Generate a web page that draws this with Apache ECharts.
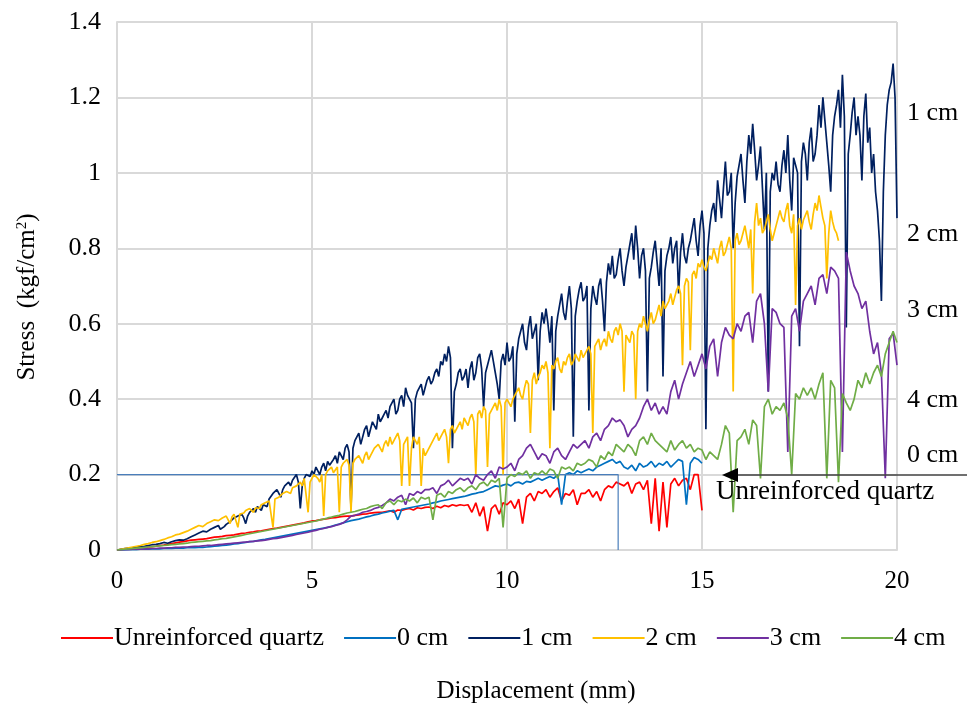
<!DOCTYPE html>
<html>
<head>
<meta charset="utf-8">
<script src="https://cdn.jsdelivr.net/npm/echarts@6/dist/echarts.min.js"></script>
<style>
html,body{margin:0;padding:0;background:#fff;}
#main{width:967px;height:712px;}
</style>
</head>
<body>
<div id="main"></div>
<script>
// displacement step of the readings (mm)
var step = 0.1;

var seriesNames = ["Unreinforced quartz", "0 cm", "1 cm", "2 cm", "3 cm", "4 cm"];
var seriesColors = ["#ff0000", "#0070c0", "#002060", "#ffc000", "#7030a0", "#70ad47"];

var quartz = [
	0,0.001,0.002,0.003,0.004,0.005,0.006,0.007,0.008,0.009,
	0.01,0.012,0.013,0.015,0.017,0.019,0.021,0.022,0.024,0.026,
	0.027,0.028,0.029,0.03,0.032,0.034,0.035,0.036,0.038,0.039,
	0.04,0.042,0.044,0.045,0.047,0.048,0.05,0.051,0.053,0.055,
	0.057,0.058,0.06,0.062,0.064,0.066,0.068,0.07,0.072,0.075,
	0.077,0.078,0.08,0.082,0.083,0.085,0.086,0.088,0.089,0.09,
	0.09,0.092,0.093,0.095,0.096,0.098,0.099,0.1,0.1,0.102,
	0.104,0.1,0.106,0.105,0.108,0.11,0.106,0.112,0.11,0.113,
	0.114,0.11,0.116,0.112,0.118,0.115,0.12,0.117,0.12,0.118,
	0.12,0.1,0.125,0.09,0.115,0.05,0.11,0.12,0.095,0.125,
	0.12,0.13,0.11,0.135,0.07,0.14,0.15,0.13,0.155,0.15,
	0.16,0.14,0.155,0.165,0.13,0.15,0.145,0.16,0.12,0.15,
	0.15,0.16,0.14,0.155,0.13,0.16,0.17,0.165,0.18,0.175,
	0.17,0.18,0.15,0.175,0.18,0.16,0.185,0.07,0.19,0.05,
	0.18,0.06,0.175,0.19,0.17,0.185,0.19,0.16,0.2,0.2,
	0.105
];

var cm0 = [
	0,0,0,0.001,0.001,0.001,0.002,0.002,0.002,0.003,
	0.003,0.003,0.004,0.004,0.004,0.005,0.005,0.005,0.006,0.006,
	0.006,0.007,0.007,0.008,0.009,0.01,0.011,0.012,0.013,0.014,
	0.016,0.017,0.019,0.02,0.022,0.023,0.025,0.027,0.028,0.03,
	0.032,0.034,0.036,0.038,0.04,0.042,0.044,0.046,0.048,0.05,
	0.052,0.054,0.056,0.058,0.06,0.063,0.066,0.069,0.072,0.075,
	0.078,0.08,0.082,0.085,0.088,0.09,0.093,0.095,0.098,0.1,
	0.103,0.105,0.08,0.108,0.11,0.112,0.114,0.116,0.118,0.12,
	0.122,0.125,0.127,0.13,0.132,0.134,0.136,0.138,0.14,0.142,
	0.145,0.148,0.15,0.153,0.155,0.16,0.165,0.17,0.168,0.172,
	0.175,0.17,0.178,0.18,0.175,0.182,0.18,0.185,0.19,0.185,
	0.19,0.195,0.19,0.2,0.12,0.2,0.205,0.2,0.21,0.205,
	0.21,0.215,0.21,0.22,0.225,0.23,0.235,0.24,0.23,0.235,
	0.22,0.215,0.225,0.21,0.23,0.22,0.225,0.235,0.22,0.23,
	0.225,0.235,0.22,0.23,0.24,0.235,0.12,0.23,0.245,0.24,
	0.23
];

// stray straight stroke of the 0 cm record
var cm0StrokeX = [0, 12.85, 12.85];
var cm0StrokeY = [0.2, 0.2, 0];

// 1 cm: readings on the 0.1 grid and the readings half a step later
var cm1 = [
	0,0.002,0.004,0.005,0.006,0.008,0.009,0.01,0.012,0.014,
	0.015,0.017,0.02,0.018,0.022,0.025,0.027,0.026,0.03,0.035,
	0.04,0.045,0.05,0.048,0.055,0.06,0.065,0.05,0.068,0.075,
	0.085,0.09,0.095,0.07,0.1,0.11,0.115,0.105,0.125,0.135,
	0.15,0.16,0.14,0.17,0.18,0.185,0.2,0.11,0.19,0.205,
	0.21,0.22,0.2,0.23,0.235,0.22,0.25,0.26,0.24,0.28,
	0.11,0.29,0.31,0.3,0.33,0.32,0.34,0.36,0.35,0.37,
	0.38,0.4,0.37,0.41,0.43,0.4,0.27,0.42,0.44,0.43,
	0.46,0.45,0.48,0.5,0.52,0.54,0.27,0.44,0.48,0.46,
	0.43,0.5,0.47,0.52,0.38,0.49,0.53,0.47,0.4,0.52,
	0.55,0.51,0.34,0.56,0.6,0.53,0.62,0.58,0.45,0.63,
	0.64,0.55,0.37,0.62,0.68,0.61,0.7,0.3,0.66,0.71,
	0.67,0.37,0.7,0.65,0.72,0.58,0.76,0.78,0.73,0.8,
	0.7,0.78,0.84,0.86,0.72,0.8,0.42,0.75,0.82,0.7,
	0.46,0.78,0.83,0.8,0.68,0.84,0.76,0.82,0.88,0.78,
	0.9,0.32,0.86,0.92,0.98,0.88,1.03,0.95,0.8,0.99,
	1.05,0.92,1.1,1.13,0.98,1.07,0.85,0.42,1.0,1.03,
	0.95,1.06,1.1,0.9,1.02,0.54,1.08,0.98,1.12,1.05,
	1.18,1.2,1.08,0.95,1.15,1.22,1.26,0.59,1.1,1.2,
	1.15,0.98,1.21,1.12,1.05,0.9,0.66,1.1,1.22,1.29,
	0.88
];
var cm1Half = [
	0.001,0.003,0.004,0.006,0.007,0.008,0.01,0.011,0.013,0.014,
	0.016,0.019,0.016,0.021,0.024,0.022,0.028,0.029,0.033,0.038,
	0.042,0.04,0.052,0.053,0.05,0.063,0.055,0.062,0.072,0.07,
	0.08,0.092,0.085,0.09,0.105,0.1,0.11,0.12,0.115,0.14,
	0.145,0.15,0.16,0.165,0.17,0.19,0.18,0.17,0.2,0.195,
	0.2,0.21,0.22,0.21,0.225,0.24,0.23,0.25,0.27,0.26,
	0.27,0.3,0.28,0.32,0.3,0.34,0.32,0.34,0.36,0.35,
	0.39,0.36,0.4,0.38,0.41,0.39,0.4,0.43,0.41,0.45,
	0.44,0.47,0.46,0.49,0.5,0.51,0.42,0.47,0.45,0.48,
	0.48,0.45,0.51,0.48,0.47,0.51,0.5,0.44,0.5,0.49,
	0.5,0.54,0.52,0.58,0.55,0.59,0.56,0.6,0.58,0.6,
	0.6,0.62,0.58,0.65,0.63,0.66,0.64,0.62,0.69,0.66,
	0.7,0.64,0.67,0.7,0.66,0.71,0.73,0.72,0.77,0.74,
	0.75,0.81,0.77,0.8,0.78,0.74,0.72,0.79,0.76,0.8,
	0.74,0.8,0.76,0.82,0.79,0.78,0.8,0.85,0.82,0.86,
	0.84,0.8,0.9,0.87,0.93,0.96,0.94,1.0,0.92,1.02,
	0.98,1.03,1.05,1.06,1.02,0.96,1.0,0.95,0.98,0.97,
	1.02,1.0,0.98,1.04,1.0,1.03,1.05,1.08,1.03,1.1,
	1.12,1.14,1.02,1.1,1.18,1.12,1.15,1.05,1.16,1.1,
	1.1,1.15,1.08,1.0,0.95,0.82,0.95,1.18,1.24,1.2
];

// 2 cm: same layout as 1 cm
var cm2 = [
	0,0.002,0.004,0.006,0.008,0.01,0.012,0.015,0.017,0.02,
	0.022,0.025,0.028,0.032,0.035,0.04,0.042,0.046,0.05,0.055,
	0.06,0.065,0.062,0.07,0.075,0.08,0.078,0.085,0.09,0.07,
	0.095,0.06,0.1,0.105,0.11,0.1,0.115,0.12,0.125,0.13,
	0.06,0.14,0.145,0.15,0.16,0.165,0.17,0.18,0.19,0.1,
	0.19,0.2,0.18,0.09,0.21,0.22,0.21,0.1,0.23,0.24,
	0.1,0.24,0.25,0.23,0.26,0.25,0.27,0.28,0.26,0.29,
	0.3,0.29,0.31,0.17,0.29,0.17,0.3,0.28,0.17,0.25,
	0.27,0.29,0.31,0.3,0.32,0.23,0.33,0.31,0.34,0.35,
	0.33,0.36,0.2,0.37,0.38,0.22,0.37,0.39,0.4,0.2,
	0.4,0.38,0.41,0.43,0.4,0.45,0.31,0.47,0.46,0.49,
	0.5,0.27,0.48,0.51,0.47,0.49,0.52,0.5,0.51,0.53,
	0.52,0.54,0.31,0.55,0.53,0.56,0.58,0.55,0.59,0.6,
	0.42,0.56,0.58,0.4,0.6,0.62,0.58,0.63,0.61,0.65,
	0.66,0.64,0.68,0.67,0.7,0.49,0.72,0.53,0.74,0.76,
	0.77,0.74,0.78,0.8,0.76,0.82,0.79,0.83,0.42,0.84,
	0.82,0.86,0.8,0.68,0.92,0.88,0.85,0.89,0.82,0.86,
	0.9,0.87,0.92,0.84,0.65,0.88,0.875,0.9,0.85,0.92,
	0.94,0.88,0.72,0.9,0.85,0.82
];
var cm2Half = [
	0.001,0.003,0.005,0.007,0.009,0.011,0.013,0.016,0.018,0.021,
	0.024,0.026,0.03,0.034,0.038,0.037,0.045,0.048,0.053,0.05,
	0.058,0.062,0.067,0.072,0.07,0.075,0.082,0.08,0.085,0.088,
	0.09,0.095,0.098,0.1,0.108,0.112,0.11,0.118,0.12,0.125,
	0.135,0.14,0.15,0.155,0.15,0.16,0.175,0.17,0.185,0.18,
	0.2,0.19,0.2,0.2,0.215,0.205,0.22,0.22,0.235,0.225,
	0.23,0.245,0.24,0.25,0.24,0.26,0.265,0.27,0.28,0.275,
	0.28,0.3,0.29,0.28,0.3,0.27,0.29,0.3,0.27,0.26,
	0.28,0.3,0.29,0.31,0.3,0.32,0.31,0.33,0.32,0.34,
	0.35,0.34,0.36,0.35,0.37,0.36,0.38,0.37,0.38,0.39,
	0.39,0.4,0.42,0.41,0.43,0.44,0.45,0.44,0.47,0.48,
	0.47,0.49,0.5,0.48,0.5,0.51,0.49,0.52,0.5,0.51,
	0.53,0.52,0.54,0.56,0.55,0.54,0.56,0.58,0.57,0.58,
	0.57,0.55,0.57,0.58,0.59,0.6,0.61,0.6,0.63,0.62,
	0.64,0.66,0.65,0.69,0.68,0.7,0.71,0.73,0.72,0.75,
	0.75,0.76,0.77,0.78,0.8,0.78,0.81,0.8,0.82,0.81,
	0.84,0.83,0.85,0.87,0.86,0.84,0.87,0.85,0.84,0.88,
	0.88,0.9,0.86,0.89,0.86,0.85,0.88,0.87,0.89,0.9,
	0.91,0.86,0.84,0.87,0.84
];

var cm3 = [
	0,0,0.001,0.001,0.002,0.002,0.002,0.003,0.003,0.004,
	0.004,0.005,0.005,0.006,0.006,0.007,0.007,0.008,0.008,0.009,
	0.01,0.01,0.011,0.012,0.012,0.013,0.014,0.015,0.016,0.017,
	0.018,0.019,0.02,0.021,0.022,0.023,0.024,0.025,0.026,0.028,
	0.03,0.031,0.033,0.035,0.037,0.039,0.041,0.043,0.045,0.047,
	0.05,0.052,0.055,0.057,0.06,0.062,0.065,0.068,0.072,0.08,
	0.09,0.092,0.095,0.1,0.102,0.105,0.11,0.113,0.118,0.125,
	0.135,0.13,0.14,0.145,0.12,0.15,0.145,0.155,0.15,0.16,
	0.16,0.165,0.15,0.17,0.175,0.185,0.17,0.18,0.19,0.185,
	0.19,0.175,0.2,0.19,0.185,0.2,0.21,0.19,0.22,0.215,
	0.22,0.23,0.21,0.24,0.25,0.27,0.28,0.26,0.24,0.255,
	0.25,0.23,0.26,0.27,0.25,0.24,0.26,0.28,0.27,0.28,
	0.29,0.27,0.3,0.31,0.29,0.32,0.33,0.35,0.34,0.345,
	0.33,0.3,0.32,0.33,0.35,0.38,0.4,0.37,0.39,0.36,
	0.38,0.36,0.42,0.45,0.4,0.44,0.47,0.5,0.46,0.49,
	0.52,0.48,0.54,0.56,0.46,0.55,0.59,0.57,0.56,0.6,
	0.58,0.62,0.63,0.55,0.66,0.68,0.6,0.42,0.64,0.63,
	0.6,0.59,0.26,0.62,0.64,0.58,0.66,0.68,0.7,0.65,
	0.72,0.73,0.68,0.75,0.74,0.72,0.26,0.79,0.74,0.7,
	0.68,0.64,0.66,0.58,0.52,0.55,0.47,0.19,0.56,0.575,
	0.49
];

var cm4 = [
	0,0.001,0.002,0.003,0.004,0.005,0.006,0.007,0.008,0.009,
	0.01,0.011,0.012,0.013,0.014,0.015,0.016,0.017,0.018,0.02,
	0.021,0.022,0.023,0.024,0.025,0.027,0.028,0.03,0.031,0.033,
	0.035,0.037,0.039,0.041,0.043,0.045,0.047,0.049,0.051,0.053,
	0.055,0.057,0.059,0.061,0.063,0.065,0.067,0.069,0.071,0.073,
	0.075,0.077,0.08,0.082,0.085,0.087,0.09,0.092,0.095,0.098,
	0.1,0.102,0.105,0.108,0.11,0.115,0.118,0.12,0.11,0.125,
	0.13,0.12,0.132,0.128,0.135,0.13,0.138,0.125,0.14,0.135,
	0.14,0.08,0.145,0.15,0.14,0.155,0.15,0.16,0.165,0.155,
	0.165,0.17,0.16,0.175,0.18,0.17,0.185,0.18,0.19,0.06,
	0.19,0.2,0.195,0.205,0.2,0.21,0.19,0.205,0.2,0.21,
	0.2,0.215,0.21,0.19,0.22,0.215,0.22,0.21,0.23,0.225,
	0.23,0.24,0.235,0.22,0.25,0.24,0.26,0.25,0.28,0.27,
	0.26,0.28,0.27,0.25,0.29,0.3,0.28,0.31,0.29,0.28,
	0.27,0.26,0.29,0.265,0.28,0.29,0.27,0.28,0.26,0.27,
	0.265,0.24,0.26,0.25,0.24,0.28,0.33,0.31,0.1,0.29,
	0.3,0.32,0.28,0.345,0.33,0.19,0.38,0.4,0.36,0.38,
	0.37,0.39,0.35,0.2,0.415,0.4,0.43,0.41,0.43,0.4,
	0.44,0.47,0.19,0.45,0.43,0.18,0.415,0.39,0.37,0.4,
	0.45,0.43,0.47,0.44,0.47,0.49,0.46,0.52,0.55,0.58,
	0.55
];

var allValues = [quartz, cm0, cm1, cm2, cm3, cm4];
var allHalf = [null, null, cm1Half, cm2Half, null, null];

var xTicks = {min: 0, max: 20, interval: 5};
var yTicks = {min: 0, max: 1.4, interval: 0.2};

// pair readings with their displacement; half-step readings go in between
function toPairs(ys, half) {
	var out = [];
	for (var i = 0; i < ys.length; i++) {
		out.push([+(i * step).toFixed(2), ys[i]]);
		if (half && i < half.length) out.push([+((i + 0.5) * step).toFixed(2), half[i]]);
	}
	return out;
}

var serif = "Liberation Serif";
var chart = echarts.init(document.getElementById('main'), null, {renderer: 'canvas'});

var series = [];
for (var k = 0; k < seriesNames.length; k++) {
	series.push({
		name: seriesNames[k],
		type: 'line',
		data: toPairs(allValues[k], allHalf[k]),
		symbol: 'none',
		lineStyle: {width: 1.7, color: seriesColors[k]},
		itemStyle: {color: seriesColors[k]},
		animation: false,
		z: 2 + k
	});
	if (k == 1) {
		var stroke = [];
		for (var j = 0; j < cm0StrokeX.length; j++) stroke.push([cm0StrokeX[j], cm0StrokeY[j]]);
		series.push({
			name: '0 cm stroke',
			type: 'line',
			data: stroke,
			symbol: 'none',
			lineStyle: {width: 1.2, color: '#4a7ebb'},
			animation: false,
			z: 3
		});
	}
}

var option = {
	backgroundColor: '#fff',
	animation: false,
	grid: {left: 117, right: 70, top: 22, bottom: 162, outerBoundsMode: 'none'},
	legend: {
		data: seriesNames,
		top: 620,
		left: 56,
		icon: 'rect',
		itemWidth: 52,
		itemHeight: 2,
		itemGap: 20,
		textStyle: {fontFamily: serif, fontSize: 26, color: '#000', padding: [0, 0, 0, -4]}
	},
	xAxis: {
		type: 'value',
		min: xTicks.min, max: xTicks.max, interval: xTicks.interval,
		name: 'Displacement (mm)',
		nameLocation: 'middle',
		nameGap: 129,
		nameTextStyle: {fontFamily: serif, fontSize: 25, color: '#000', padding: [0, 0, 0, 58]},
		axisLine: {lineStyle: {color: '#d9d9d9', width: 2}},
		axisTick: {show: false},
		axisLabel: {fontFamily: serif, fontSize: 25, color: '#000', margin: 19},
		splitLine: {show: true, lineStyle: {color: '#d9d9d9', width: 2}}
	},
	yAxis: {
		type: 'value',
		min: yTicks.min, max: yTicks.max, interval: yTicks.interval,
		name: 'Stress  (kgf/cm{sup|2})',
		nameLocation: 'middle',
		nameGap: 77,
		nameRotate: 90,
		nameTextStyle: {
			fontFamily: serif, fontSize: 25, color: '#000', padding: [0, 22, 0, 0],
			rich: {sup: {fontFamily: serif, fontSize: 15, color: '#000', verticalAlign: 'top', padding: [0, 0, 8, 0]}}
		},
		axisLine: {show: true, lineStyle: {color: '#d9d9d9', width: 2}},
		axisTick: {show: false},
		axisLabel: {fontFamily: serif, fontSize: 26, color: '#000', margin: 16},
		splitLine: {show: true, lineStyle: {color: '#d9d9d9', width: 2}}
	},
	series: series
};
chart.setOption(option);

// end labels and arrow annotation
var lbl = function (txt, x, y) {
	return {type: 'text', left: x, top: y, z: 100,
		style: {text: txt, font: '26px "' + serif + '"', fill: '#000'}};
};
chart.setOption({
	graphic: [
		lbl('1 cm', 907, 100),
		lbl('2 cm', 907, 221),
		lbl('3 cm', 907, 297),
		lbl('4 cm', 907, 387),
		lbl('0 cm', 907, 442),
		{type: 'line', z: 100, shape: {x1: 736, y1: 475, x2: 967, y2: 475},
			style: {stroke: '#404040', lineWidth: 1.5}},
		{type: 'polygon', z: 100, shape: {points: [[722, 475], [738, 468], [738, 482]]},
			style: {fill: '#000'}},
		{type: 'text', left: 716, top: 478, z: 100,
			style: {text: 'Unreinforced quartz', font: '27px "' + serif + '"', fill: '#000'}}
	]
});
</script>
</body>
</html>
